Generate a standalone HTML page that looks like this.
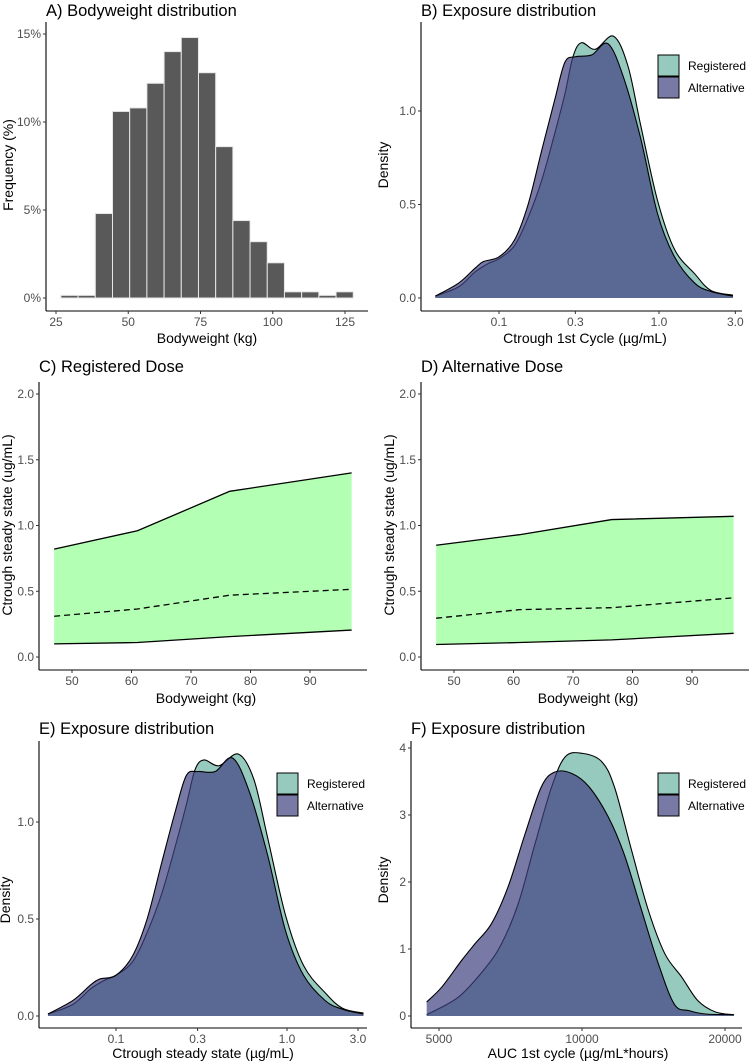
<!DOCTYPE html>
<html><head><meta charset="utf-8">
<style>
body{margin:0;background:#fff;}
svg{display:block;font-family:"Liberation Sans",Arial,sans-serif;}
.tick{font-size:12px;fill:#4d4d4d;}
.atitle{font-size:14px;fill:#000;}
.ptitle{font-size:16.5px;fill:#000;}
.leg{font-size:12px;fill:#000;}
</style></head>
<body>
<svg id="chart" width="750" height="1063" viewBox="0 0 750 1063" xmlns="http://www.w3.org/2000/svg"></svg>
<script>
// ---- Panel A data ----
const histStart = 26.7;
const histWidth = 5.95;
const histFreq = [0.15,0.15,4.8,10.6,10.8,12.2,14.0,14.8,12.8,8.6,4.4,3.2,2.0,0.35,0.35,0.15,0.35];
const histXTicks = [25,50,75,100,125];
const histYTicks = [0,5,10,15];
// ---- Panel B data ----
const bRegX = [0.04,0.056,0.071,0.086,0.1,0.125,0.152,0.185,0.223,0.258,0.29,0.327,0.40,0.52,0.64,0.77,0.98,1.25,1.67,2.11,2.9];
const bRegY = [0.01,0.06,0.14,0.185,0.21,0.28,0.43,0.63,0.88,1.09,1.29,1.365,1.33,1.40,1.24,0.92,0.52,0.26,0.13,0.04,0.015];
const bAltX = [0.04,0.056,0.071,0.08,0.1,0.125,0.152,0.185,0.223,0.258,0.3,0.38,0.48,0.6,0.77,0.98,1.25,1.67,2.11,2.9];
const bAltY = [0.01,0.08,0.16,0.195,0.22,0.31,0.5,0.79,1.06,1.26,1.29,1.30,1.36,1.18,0.85,0.45,0.22,0.08,0.035,0.01];
const logTicks = [0.1,0.3,1.0,3.0];
const logTickLabels = ["0.1","0.3","1.0","3.0"];
const densTicks = [0,0.5,1.0];
const densTickLabels = ["0.0","0.5","1.0"];
// ---- Panel C/D data ----
const doseWeights = [47,61,76.5,97];
const cUpper = [0.82,0.96,1.26,1.40];
const cMedian = [0.31,0.365,0.47,0.515];
const cLower = [0.10,0.11,0.155,0.205];
const dUpper = [0.85,0.93,1.045,1.07];
const dMedian = [0.295,0.36,0.375,0.45];
const dLower = [0.095,0.11,0.13,0.18];
const doseXTicks = [50,60,70,80,90];
const doseYTicks = [0,0.5,1.0,1.5,2.0];
const doseYLabels = ["0.0","0.5","1.0","1.5","2.0"];
// ---- Panel E data ----
const eRegX = [0.04,0.056,0.071,0.086,0.1,0.125,0.152,0.185,0.223,0.258,0.29,0.327,0.40,0.52,0.64,0.77,0.98,1.25,1.67,2.11,2.8];
const eRegY = [0.01,0.06,0.14,0.185,0.21,0.28,0.43,0.63,0.88,1.09,1.27,1.32,1.29,1.35,1.22,0.92,0.52,0.26,0.12,0.04,0.015];
const eAltX = [0.04,0.056,0.071,0.08,0.1,0.125,0.152,0.185,0.223,0.258,0.3,0.38,0.48,0.6,0.77,0.98,1.25,1.67,2.11,2.8];
const eAltY = [0.01,0.08,0.16,0.19,0.21,0.31,0.5,0.79,1.06,1.24,1.26,1.26,1.33,1.16,0.83,0.44,0.21,0.08,0.035,0.01];
// ---- Panel F data ----
const fRegX = [4710,5490,6250,6772,7344,7963,8633,9221,10030,10990,11700,12720,13790,14940,16220,17530,19100,20880];
const fRegY = [0.02,0.28,0.71,1.08,1.68,2.57,3.42,3.87,3.92,3.80,3.42,2.47,1.58,0.93,0.58,0.23,0.06,0.02];
const fAltX = [4710,5065,5580,5955,6450,6990,7590,8210,8755,9520,10350,11360,12260,13280,14400,15630,16800,18200,20880];
const fAltY = [0.21,0.43,0.83,1.08,1.38,1.93,2.72,3.42,3.64,3.62,3.42,2.97,2.42,1.63,0.83,0.18,0.08,0.03,0.02];
const fXTicks = [5000,10000,20000];
const fYTicks = [0,1,2,3,4];

const NS="http://www.w3.org/2000/svg";
const svg=document.getElementById('chart');
function mk(tag,attrs,parent){const e=document.createElementNS(NS,tag);for(const k in attrs)e.setAttribute(k,attrs[k]);(parent||svg).appendChild(e);return e;}
function txt(x,y,s,cls,anchor,parent,rot){const t=mk('text',{x:x,y:y,class:cls,'text-anchor':anchor||'start'},parent);if(rot)t.setAttribute('transform','rotate(-90 '+x+' '+y+')');t.textContent=s;return t;}
function smooth(pts){let d='M'+pts[0][0]+','+pts[0][1];for(let i=0;i<pts.length-1;i++){const p0=pts[i-1]||pts[i],p1=pts[i],p2=pts[i+1],p3=pts[i+2]||p2;const c1=[p1[0]+(p2[0]-p0[0])/6,p1[1]+(p2[1]-p0[1])/6],c2=[p2[0]-(p3[0]-p1[0])/6,p2[1]-(p3[1]-p1[1])/6];d+=' C'+c1[0]+','+c1[1]+' '+c2[0]+','+c2[1]+' '+p2[0]+','+p2[1];}return d;}
function axes(g,x0,y0,x1,yTop){
  const a=mk('line',{x1:x0,y1:yTop,x2:x0,y2:y0,stroke:'#000','stroke-width':1.1},g);
  
  const b=mk('line',{x1:x0,y1:y0,x2:x1,y2:y0,stroke:'#000','stroke-width':1.1},g);
  
}
function xtick(g,x,y0,label){mk('line',{x1:x,y1:y0,x2:x,y2:y0+3,stroke:'#333'},g);const t=txt(x,y0+15,label,'tick','middle',g);}
function ytick(g,x0,y,label){mk('line',{x1:x0-3,y1:y,x2:x0,y2:y,stroke:'#333'},g);const t=txt(x0-5,y+4,label,'tick','end',g);}
function panelGroup(name){const g=mk('g',{});return g;}
function title(g,x,y,s){const t=txt(x,y,s,'ptitle','start',g);}
function xtitle(g,x,y,s){const t=txt(x,y,s,'atitle','middle',g);}
function ytitle(g,x,y,s){const t=txt(x,y,s,'atitle','middle',g,true);}
const REG='#69b3a2',ALT='#404080';
function density(g,xs,ys,fx,fy,col,name){
  const pts=xs.map((v,i)=>[fx(v),fy(ys[i])]);
  const base=fy(0);
  const d=smooth(pts)+' L'+pts[pts.length-1][0]+','+base+' L'+pts[0][0]+','+base+' Z';
  const f=mk('path',{d:d,fill:col,'fill-opacity':0.7,stroke:'none'},g);
  
  const l=mk('path',{d:smooth(pts),fill:'none',stroke:'#000','stroke-width':1.1},g);
  
}
function legend(g,x,y){
  const r1=mk('rect',{x:x,y:y,width:21,height:21,fill:REG,'fill-opacity':0.7,stroke:'#000','stroke-width':1},g);
  
  const r2=mk('rect',{x:x,y:y+22,width:21,height:21,fill:ALT,'fill-opacity':0.7,stroke:'#000','stroke-width':1},g);
  
  const t1=txt(x+30,y+15,'Registered','leg','start',g);
  const t2=txt(x+30,y+37,'Alternative','leg','start',g);
}

// ---- Panel A ----
(function(){
  const g=panelGroup('panel-a-bodyweight-histogram');
  const fx=v=>56+(v-25)*2.89, fy=v=>298-v*17.6;
  histFreq.forEach((v,i)=>{
    const x0=fx(histStart+i*histWidth),x1=fx(histStart+(i+1)*histWidth);
    const r=mk('rect',{x:x0,y:fy(v),width:x1-x0,height:fy(0)-fy(v),fill:'#595959',stroke:'#e6e6e6','stroke-width':1},g);
    
  });
  axes(g,46,311,368,22);
  histXTicks.forEach(v=>xtick(g,fx(v),311,String(v)));
  histYTicks.forEach(v=>ytick(g,46,fy(v),v+'%'));
  title(g,46,16,'A) Bodyweight distribution');
  xtitle(g,207,343,'Bodyweight (kg)');
  ytitle(g,13,165,'Frequency (%)');
})();

// ---- Panel B ----
(function(){
  const g=panelGroup('panel-b-exposure-distribution');
  const fx=v=>499+160*Math.log10(v/0.1), fy=v=>298-v*187;
  density(g,bRegX,bRegY,fx,fy,REG,'registered-density');
  density(g,bAltX,bAltY,fx,fy,ALT,'alternative-density');
  axes(g,421,311,742,22);
  logTicks.forEach((v,i)=>xtick(g,fx(v),311,logTickLabels[i]));
  densTicks.forEach((v,i)=>ytick(g,421,fy(v),densTickLabels[i]));
  legend(g,658,55);
  title(g,421,16,'B) Exposure distribution');
  xtitle(g,585,343,'Ctrough 1st Cycle (\u00b5g/mL)');
  ytitle(g,388,165,'Density');
})();

// ---- Panels C & D ----
function dosePanel(name,ox,up,med,lo,ttl){
  const g=panelGroup(name);
  const fx=v=>ox+33+(v-50)*5.95, fy=v=>657-v*131.5;
  const top=doseWeights.map((w,i)=>[fx(w),fy(up[i])]);
  const bot=doseWeights.map((w,i)=>[fx(w),fy(lo[i])]);
  const poly=top.concat(bot.slice().reverse()).map(p=>p.join(',')).join(' ');
  const band=mk('polygon',{points:poly,fill:'#b3ffb3',stroke:'none'},g);
  
  const lu=mk('polyline',{points:top.map(p=>p.join(',')).join(' '),fill:'none',stroke:'#000','stroke-width':1.3},g);
  
  const ll=mk('polyline',{points:bot.map(p=>p.join(',')).join(' '),fill:'none',stroke:'#000','stroke-width':1.3},g);
  
  const lm=mk('polyline',{points:doseWeights.map((w,i)=>fx(w)+','+fy(med[i])).join(' '),fill:'none',stroke:'#000','stroke-width':1.3,'stroke-dasharray':'6,4'},g);
  
  axes(g,ox,670,ox+328,382);
  doseXTicks.forEach(v=>xtick(g,fx(v),670,String(v)));
  doseYTicks.forEach((v,i)=>ytick(g,ox,fy(v),doseYLabels[i]));
  title(g,ox,372,ttl);
  xtitle(g,ox+167,703,'Bodyweight (kg)');
  ytitle(g,ox-27,525,'Ctrough steady state (ug/mL)');
}
dosePanel('panel-c-registered-dose',39,cUpper,cMedian,cLower,'C) Registered Dose');
dosePanel('panel-d-alternative-dose',421,dUpper,dMedian,dLower,'D) Alternative Dose');

// ---- Panel E ----
(function(){
  const g=panelGroup('panel-e-exposure-distribution');
  const fx=v=>116+171*Math.log10(v/0.1), fy=v=>1016-v*194;
  density(g,eRegX,eRegY,fx,fy,REG,'registered-density');
  density(g,eAltX,eAltY,fx,fy,ALT,'alternative-density');
  axes(g,39,1028,367,741);
  logTicks.forEach((v,i)=>xtick(g,Math.min(fx(v),358),1028,logTickLabels[i]));
  densTicks.forEach((v,i)=>ytick(g,39,fy(v),densTickLabels[i]));
  legend(g,277,773);
  title(g,39,734,'E) Exposure distribution');
  xtitle(g,203,1058,'Ctrough steady state (\u00b5g/mL)');
  ytitle(g,10,900,'Density');
})();

// ---- Panel F ----
(function(){
  const g=panelGroup('panel-f-exposure-distribution');
  const fx=v=>439+143*Math.log2(v/5000), fy=v=>1016-v*67;
  density(g,fRegX,fRegY,fx,fy,REG,'registered-density');
  density(g,fAltX,fAltY,fx,fy,ALT,'alternative-density');
  axes(g,411,1028,742,741);
  fXTicks.forEach(v=>xtick(g,fx(v),1028,String(v)));
  fYTicks.forEach(v=>ytick(g,411,fy(v),String(v)));
  legend(g,658,773);
  title(g,411,734,'F) Exposure distribution');
  xtitle(g,578,1058,'AUC 1st cycle (\u00b5g/mL*hours)');
  ytitle(g,388,880,'Density');
})();
</script>
</body></html>
